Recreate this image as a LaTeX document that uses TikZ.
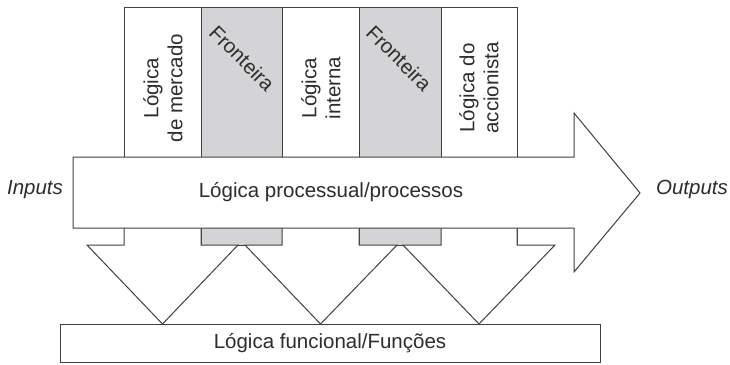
\documentclass[tikz,border=0pt]{standalone}
\usepackage{fontspec}
\setmainfont{Liberation Sans}
\definecolor{lc}{RGB}{64,64,64}
\definecolor{gc}{RGB}{212,212,214}
\definecolor{tc}{RGB}{45,45,45}
\begin{document}
\begin{tikzpicture}[x=1pt,y=-1pt, line width=1pt, line join=miter,
  wshape/.style={draw=lc, fill=white},
  gshape/.style={draw=lc, fill=gc},
  lbl/.style={text=tc, font=\fontsize{20.5}{24}\selectfont, inner sep=0pt, align=center},
  ilbl/.style={lbl, font=\fontsize{20.5}{24}\selectfont\itshape}]
\useasboundingbox (0,0) rectangle (730,364);
% vertical columns
\path[wshape] (124,7.5) rectangle (201,245);
\path[gshape] (201,7.5) rectangle (282,245);
\path[wshape] (282,7.5) rectangle (359,245);
\path[gshape] (359,7.5) rectangle (441,245);
\path[wshape] (441,7.5) rectangle (517,245);
% downward arrows
\path[wshape] (124,228) -- (124,245) -- (87,245) -- (162.5,324) -- (238,245) -- (201,245) -- (201,228);
\path[wshape] (282,228) -- (282,245) -- (245,245) -- (320.5,324) -- (397,245) -- (359,245) -- (359,228);
\path[wshape] (441,228) -- (441,245) -- (403,245) -- (479,324) -- (555,245) -- (517,245) -- (517,228);
% main arrow
\path[wshape] (73,157) -- (574,157) -- (574,113) -- (640,193) -- (574,272) -- (574,228) -- (73,228) -- cycle;
% bottom box
\path[wshape] (60,324) rectangle (600,362);
% labels
\node[lbl, rotate=90] (mercado) at (163,88) {Lógica\\de mercado};
\node[lbl, rotate=-45] (front1) at (242,58) {Fronteira};
\node[lbl, rotate=90] (interna) at (321,88) {Lógica\\interna};
\node[lbl, rotate=-45] (front2) at (399,58) {Fronteira};
\node[lbl, rotate=90] (accion) at (479,88) {Lógica do\\accionista};
\node[lbl] (proc) at (331,192) {Lógica processual/processos};
\node[lbl] (func) at (330,343) {Lógica funcional/Funções};
\node[ilbl] (inputs) at (35,190) {Inputs};
\node[ilbl] (outputs) at (692,189) {Outputs};
\end{tikzpicture}
\end{document}
